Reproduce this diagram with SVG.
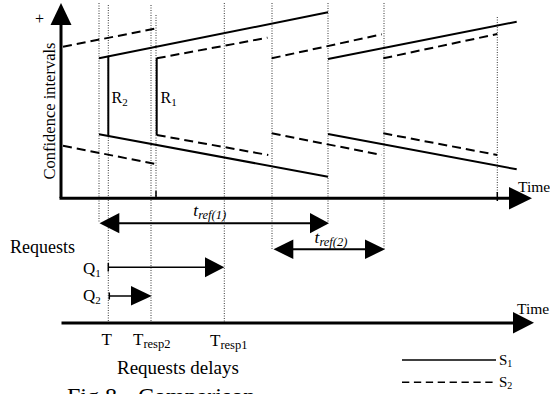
<svg xmlns="http://www.w3.org/2000/svg" width="550" height="394" viewBox="0 0 550 394" font-family="'Liberation Serif', 'Times New Roman', serif">
<style>
  text { font-family: "Liberation Serif", "Times New Roman", serif; fill: #000; }
  .dot { stroke: #000; stroke-width: 0.8; stroke-dasharray: 1 1.5; fill: none; }
  .s1 { stroke: #000; stroke-width: 2; fill: none; }
  .s2 { stroke: #000; stroke-width: 2; stroke-dasharray: 9 5; fill: none; }
  .axis { stroke: #000; stroke-width: 3; fill: none; }
  .head { fill: #000; stroke: none; }
  .arr { stroke: #000; stroke-width: 2; fill: none; }
  .q { stroke: #000; stroke-width: 1.5; fill: none; }
  .it { font-style: italic; }
</style>
<rect width="550" height="394" fill="#fff"/>

<g id="guides">
  <line class="dot" x1="99" y1="3" x2="99" y2="223"/>
  <line class="dot" x1="108.3" y1="5" x2="108.3" y2="323"/>
  <line class="dot" x1="151" y1="5" x2="151" y2="323"/>
  <line class="dot" x1="156" y1="15" x2="156" y2="198"/>
  <line class="dot" x1="224.3" y1="3" x2="224.3" y2="323"/>
  <line class="dot" x1="272" y1="3" x2="272" y2="250"/>
  <line class="dot" x1="328" y1="3" x2="328" y2="223"/>
  <line class="dot" x1="384" y1="3" x2="384" y2="250"/>
  <line class="dot" x1="497.3" y1="17" x2="497.3" y2="198"/>
</g>

<g id="axes">
  <line class="axis" x1="61" y1="20" x2="61" y2="198"/>
  <polygon class="head" points="61,3 50.5,25 71.5,25"/>
  <line class="axis" x1="59.5" y1="198.3" x2="512" y2="198.3"/>
  <polygon class="head" points="532,198.3 509,187 509,209.5"/>
  <line class="q" x1="156" y1="191" x2="156" y2="198"/>
  <line class="q" x1="497.3" y1="192" x2="497.3" y2="201"/>
  <line class="axis" x1="61.5" y1="323" x2="516" y2="323"/>
  <polygon class="head" points="534,322.7 513,312 513,333.4"/>
  <text x="39.5" y="23.5" font-size="16" text-anchor="middle">+</text>
  <text transform="translate(55,111) rotate(-90)" font-size="16.5" text-anchor="middle">Confidence intervals</text>
  <text x="518" y="192" font-size="15.5">Time</text>
  <text x="517" y="314" font-size="15.5">Time</text>
</g>

<g id="series-s1">
  <line class="s1" x1="99" y1="58.3" x2="328" y2="12.3"/>
  <line class="s1" x1="99" y1="134.3" x2="328" y2="176.7"/>
  <line class="s1" x1="108.3" y1="56.5" x2="108.3" y2="136"/>
  <line class="s1" x1="156.7" y1="58" x2="156.7" y2="135"/>
  <line class="s1" x1="328" y1="59" x2="516.7" y2="21.7"/>
  <line class="s1" x1="328" y1="134" x2="516.7" y2="169.3"/>
</g>

<g id="series-s2">
  <line class="s2" x1="63" y1="46.7" x2="156.7" y2="28.3"/>
  <line class="s2" x1="63" y1="145.7" x2="156.7" y2="164.3"/>
  <line class="s2" x1="156.7" y1="58.3" x2="267.5" y2="37.7"/>
  <line class="s2" x1="156.7" y1="135" x2="268.3" y2="155"/>
  <line class="s2" x1="271.7" y1="58.3" x2="381.7" y2="34.3"/>
  <line class="s2" x1="271.7" y1="133.3" x2="381.7" y2="155"/>
  <line class="s2" x1="383.3" y1="58.3" x2="497.3" y2="34"/>
  <line class="s2" x1="383.3" y1="133.3" x2="497.3" y2="155"/>
</g>

<g id="labels-r">
  <text x="111.5" y="103.3" font-size="16">R<tspan font-size="11" dy="3">2</tspan></text>
  <text x="160.5" y="103.3" font-size="16">R<tspan font-size="11" dy="3">1</tspan></text>
</g>

<g id="connectors">
  <line class="arr" x1="117" y1="223.3" x2="312" y2="223.3"/>
  <polygon class="head" points="99.5,223.3 119.3,213 119.3,233.3"/>
  <polygon class="head" points="329,223.3 310,213 310,233.3"/>
  <line class="arr" x1="291" y1="249.3" x2="367" y2="249.3"/>
  <polygon class="head" points="273.5,249.3 293.3,239.5 293.3,259"/>
  <polygon class="head" points="385,249.3 365,239.5 365,259"/>
  <line class="q" x1="108.3" y1="263" x2="108.3" y2="271.5"/>
  <line class="q" x1="108.3" y1="267.3" x2="207" y2="267.3"/>
  <polygon class="head" points="224.3,267.3 205,257.3 205,277.3"/>
  <line class="q" x1="109.3" y1="292.5" x2="109.3" y2="299.5"/>
  <line class="q" x1="109.3" y1="296" x2="133" y2="296"/>
  <polygon class="head" points="151.7,296 131,286 131,305.5"/>
</g>

<g id="labels">
  <text x="193.3" y="216" font-size="17.5" class="it">t<tspan font-size="12.5" dy="3">ref(1)</tspan></text>
  <text x="314.5" y="242.8" font-size="17.5" class="it">t<tspan font-size="12.5" dy="3">ref(2)</tspan></text>
  <text x="10" y="252.6" font-size="18">Requests</text>
  <text x="83" y="273.5" font-size="17">Q<tspan font-size="11" dy="3">1</tspan></text>
  <text x="83" y="301" font-size="17">Q<tspan font-size="11" dy="3">2</tspan></text>
  <text x="101.5" y="345" font-size="17">T</text>
  <text x="133" y="345" font-size="17">T<tspan font-size="12.5" dy="3">resp2</tspan></text>
  <text x="210" y="346" font-size="17">T<tspan font-size="12.5" dy="3">resp1</tspan></text>
  <text x="117" y="373.5" font-size="19">Requests delays</text>
</g>

<g id="legend">
  <line stroke="#000" stroke-width="1.5" x1="402" y1="360" x2="496" y2="360"/>
  <text x="499" y="365" font-size="15">S<tspan font-size="10" dy="2">1</tspan></text>
  <line stroke="#000" stroke-width="1.5" stroke-dasharray="7.3 4.6" x1="402" y1="382.3" x2="496" y2="382.3"/>
  <text x="499" y="386.5" font-size="15">S<tspan font-size="10" dy="2">2</tspan></text>
</g>

<g id="caption">
  <text x="67" y="404" font-size="24">Fig 8.<tspan x="138">Comparison</tspan></text>
</g>
</svg>
